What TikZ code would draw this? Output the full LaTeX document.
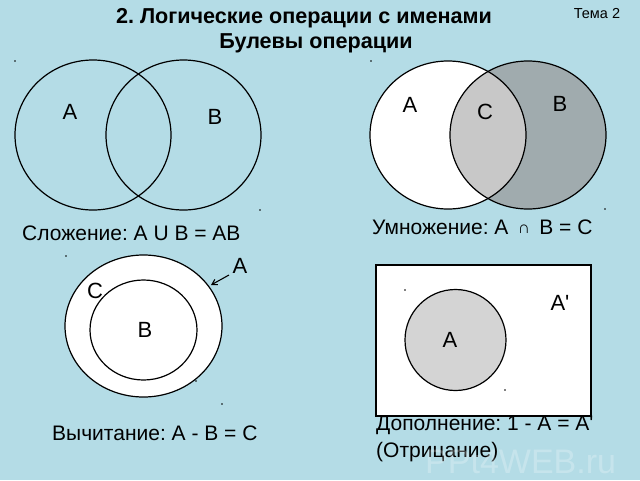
\documentclass[tikz,border=0pt]{standalone}
\usepackage{fontspec}
\setmainfont{Liberation Sans}[Ligatures=TeXOff]
\usetikzlibrary{arrows.meta}
\definecolor{bg}{RGB}{180,220,230}
\definecolor{bgray}{RGB}{160,171,174}
\definecolor{cgray}{RGB}{200,200,200}
\definecolor{agray}{RGB}{212,212,212}
\tikzset{
  venn/.style={draw=black, line width=1.2pt},
  lbl/.style={font=\fontsize{22}{24}\selectfont, inner sep=0pt},
  captxt/.style={font=\fontsize{21}{24}\selectfont, inner sep=0pt, anchor=west},
  speck/.style={fill=black, circle, inner sep=0pt, minimum size=1.8pt}
}
\frenchspacing
\begin{document}
\begin{tikzpicture}[x=1pt,y=-1pt]
\fill[bg] (0,0) rectangle (640,480);
\useasboundingbox (0,0) rectangle (640,480);
% title
\node[font=\bfseries\fontsize{21.6}{24}\selectfont, inner sep=0pt] (t1) at (304,18) {2. Логические операции с именами};
\node[font=\bfseries\fontsize{21.6}{24}\selectfont, inner sep=0pt] (t2) at (316,43) {Булевы операции};
\node[font=\fontsize{14.5}{16}\selectfont, inner sep=0pt] (tema) at (597,14) {Тема 2};
% ---- top-left: union
\draw[venn] (93,135) circle[x radius=78pt, y radius=75pt];
\draw[venn] (183.5,135) circle[x radius=77.5pt, y radius=75pt];
\node[lbl] (a1) at (70,112) {A};
\node[lbl] (b1) at (215,117) {B};
\node[captxt] (c1) at (22,233) {Сложение: A U B = AB};
% ---- top-right: intersection
\fill[white] (448,135) circle[x radius=78pt, y radius=74pt];
\fill[bgray] (528,135) circle[x radius=78pt, y radius=74pt];
\begin{scope}
  \clip (448,135) circle[x radius=78pt, y radius=74pt];
  \fill[cgray] (528,135) circle[x radius=78pt, y radius=74pt];
\end{scope}
\draw[venn] (448,135) circle[x radius=78pt, y radius=74pt];
\draw[venn] (528,135) circle[x radius=78pt, y radius=74pt];
\node[lbl] (a2) at (410,105) {A};
\node[lbl] (cc2) at (485,112) {C};
\node[lbl] (b2) at (560,104) {B};
\node[captxt] (c2) at (372,227) {Умножение: A\, {\fontsize{17}{18}\selectfont\raisebox{1pt}{∩}}\, B = C};
% ---- bottom-left: difference
\draw[venn, fill=white] (143.5,326) circle[x radius=78.5pt, y radius=71pt];
\draw[venn, fill=white] (143.5,330) circle[x radius=53.5pt, y radius=50pt];
\node[lbl] (a3) at (240,266) {A};
\coordinate (a3tip) at (211,285);
\draw[-{Straight Barb[length=5pt,width=6pt]}, line width=1.1pt] (229,275) -- (a3tip);
\node[lbl] (cc3) at (95,291) {C};
\node[lbl] (b3) at (145,330) {B};
\node[captxt] (c3) at (52,433) {Вычитание: A - B = C};
% ---- bottom-right: complement
\draw[fill=white, line width=1.2pt] (376,265) rectangle (591,416);
\draw[venn, fill=agray] (455.5,340) circle[x radius=50.5pt, y radius=50.5pt];
\node[lbl] (a4) at (450,340) {A};
\node[lbl] (a4p) at (560,303) {A'};
\node[captxt] (c4) at (376,425) {Дополнение: 1 - A = A'};
\node[captxt] (c5) at (376,452) {(Отрицание)};
% watermark
\node[font=\fontsize{34}{36}\selectfont, text=white, opacity=0.25, inner sep=0pt, anchor=west] (wm) at (425,462) {PPt4WEB.ru};
% specks
\node[speck] (s1) at (15,61) {};
\node[speck] (s2) at (260,210) {};
\node[speck] (s3) at (371,61) {};
\node[speck] (s4) at (605,209) {};
\node[speck] (s5) at (66,256) {};
\node[speck] (s6) at (196,381) {};
\node[speck] (s7) at (222,404) {};
\node[speck] (s8) at (405,290) {};
\node[speck] (s9) at (505,390) {};
\end{tikzpicture}
\end{document}
